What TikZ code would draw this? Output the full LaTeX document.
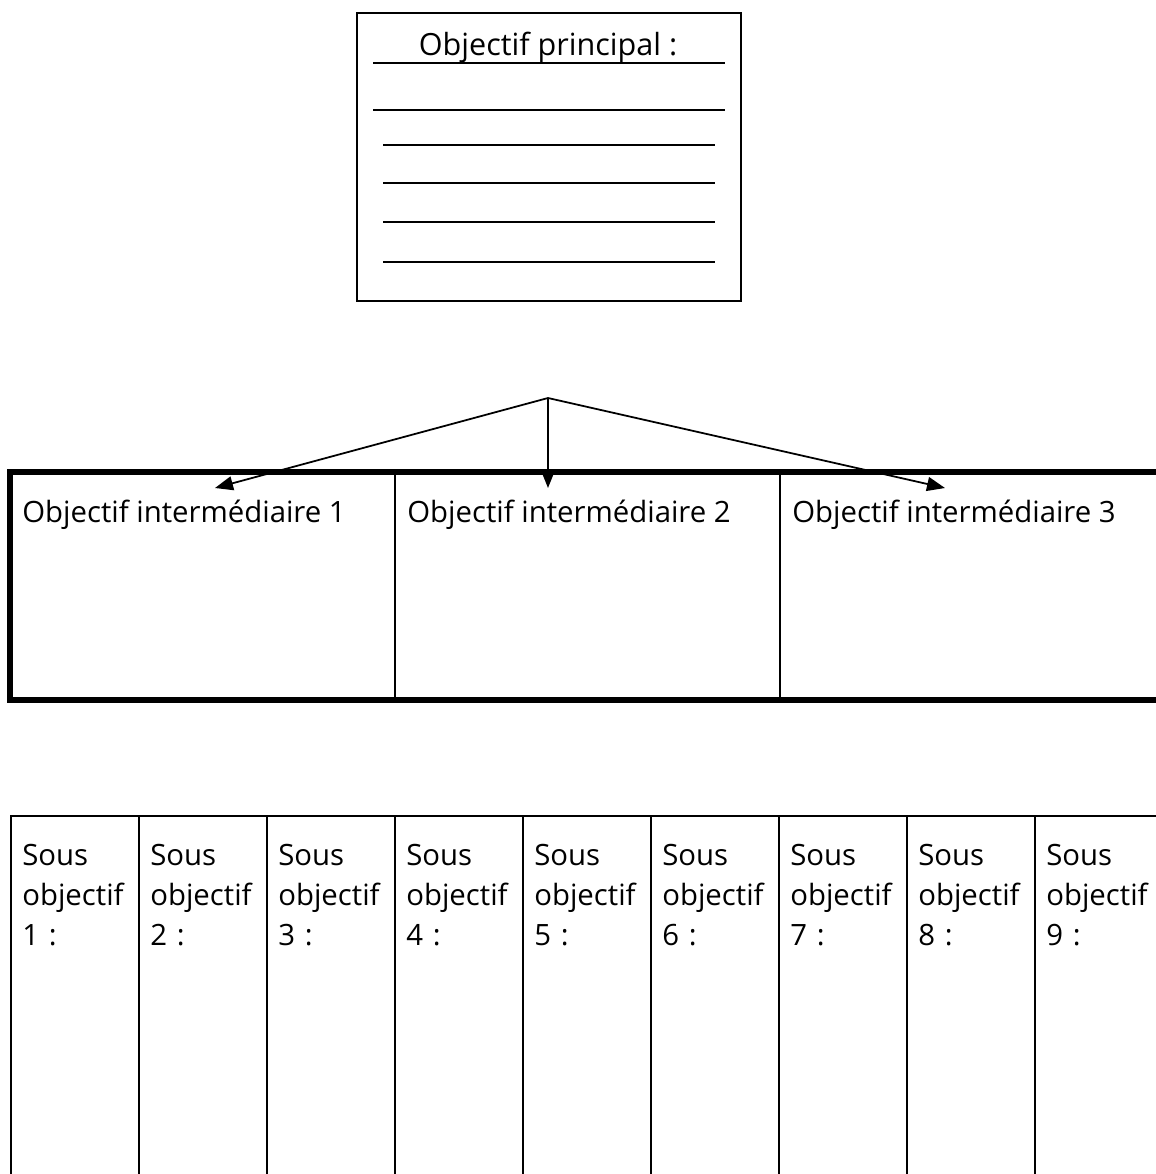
\documentclass[tikz,border=0pt]{standalone}
\usepackage{fontspec}
\setmainfont{Open Sans}
\usetikzlibrary{arrows.meta}

\tikzset{
    fleche/.style={-{Triangle[length=0.36cm,width=0.28cm]}, line width=1pt},
    texte/.style={anchor=base west, inner sep=0pt, font=\fontsize{16.7}{22.8}\selectfont},
    cadre/.style={draw, inner sep=0pt, outer sep=0pt, anchor=north west},
}

\begin{document}
\begin{tikzpicture}[x=0.02cm,y=-0.02cm]
    \useasboundingbox (0,0) rectangle (1156,1174);
    \clip (0,0) rectangle (1156,1174);

    % objectif principal
    \node[cadre, line width=1pt, minimum width=7.68cm, minimum height=5.76cm] (principal) at (357,13) {};
    \node[anchor=base, inner sep=0pt, font=\fontsize{17.4}{20}\selectfont] (titre) at (548,55) {Objectif principal :};
    \draw[line width=1.2pt] (373,63) -- (725,63);
    \draw[line width=1.2pt] (373,110) -- (725,110);
    \foreach \y in {145,183,222,262}
        \draw[line width=1pt] (383,\y) -- (715,\y);

    % objectifs intermediaires
    \foreach \i in {1,2,3} {
        \node[cadre, line width=1.1pt, minimum width=7.7cm, minimum height=4.56cm] (inter\i) at ({10+385*(\i-1)},472) {};
        \node[texte] (tinter\i) at ({22+385*(\i-1)},522) {Objectif intermédiaire \i};
    }
    \draw[line width=2.9pt] (inter1.north west) rectangle (inter3.south east);

    \coordinate (sommet) at (548,398);
    \coordinate (b1) at (215,488);
    \coordinate (b2) at (548,488);
    \coordinate (b3) at (945,488);
    \draw[fleche] (sommet) -- (b1);
    \draw[fleche] (sommet) -- (b2);
    \draw[fleche] (sommet) -- (b3);

    % sous objectifs
    \foreach \i in {1,...,9} {
        \node[cadre, line width=1.6pt, minimum width=2.56cm, minimum height=8cm] (sous\i) at ({11+128*(\i-1)},816) {};
        \node[texte, text width=2.4cm, align=left] (tsous\i) at ({22+128*(\i-1)},865) {Sous\\objectif\\\i\ :};
    }
\end{tikzpicture}
\end{document}
